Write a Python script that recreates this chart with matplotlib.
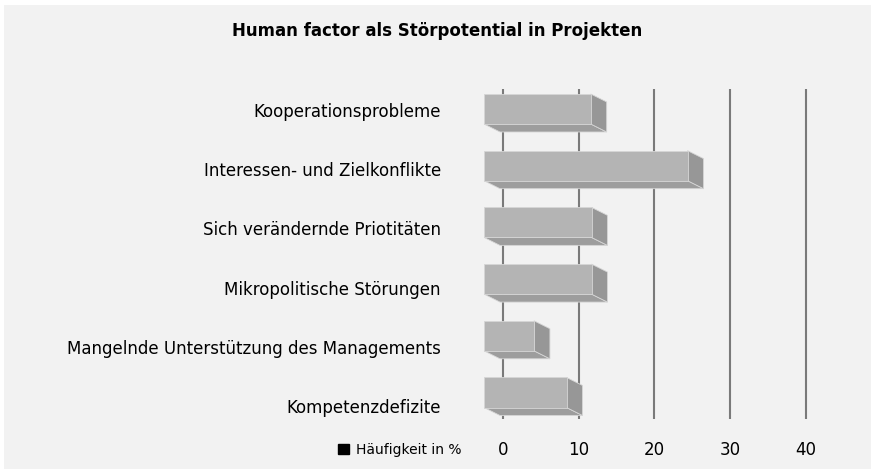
import matplotlib
matplotlib.use('Agg')
import matplotlib.pyplot as plt
from matplotlib.patches import Polygon, Rectangle, Patch

# Daten (Häufigkeit in %), von oben nach unten
categories = [
    'Kooperationsprobleme',
    'Interessen- und Zielkonflikte',
    'Sich verändernde Priotitäten',
    'Mikropolitische Störungen',
    'Mangelnde Unterstützung des Managements',
    'Kompetenzdefizite',
]
values = [13.7, 26.5, 13.8, 13.8, 6.2, 10.5]
xticks = [0, 10, 20, 30, 40]

title = 'Human factor als Störpotential in Projekten'
legend_label = 'Häufigkeit in %'

# look of the pseudo-3d bars
front_col = '#b4b4b4'
bottom_col = '#9d9d9d'
side_col = '#979797'
edge_col = '#d6d6d6'
depth_x = 2.1      # depth offset in value units
depth_y = 0.14     # depth offset in category units
bar_h = 0.53
bar_start = -0.4
label_step = 1.044  # labels are spread a bit wider than the bars (perspective)

W, H = 871, 469
fig = plt.figure(figsize=(W / 100, H / 100), dpi=100)
fig.patch.set_facecolor('white')
fig.add_artist(Rectangle((4 / W, 0), 1, (H - 5) / H, transform=fig.transFigure,
                         facecolor='#f2f2f2', edgecolor='none', zorder=-10))

ax = fig.add_axes([470 / W, 1 - 419 / H, 360 / W, 330 / H])
ax.set_facecolor('none')
ax.set_xlim(-4.36, 43.21)
ax.set_ylim(5.397, -0.423)

ax.vlines(xticks, 5.397, -0.423, color='#7a7a7a', lw=1.5, zorder=1)

for i, v in enumerate(values):
    # back face coords
    bx0, bx1 = bar_start, v
    by_top, by_bot = i + depth_y / 2 - bar_h / 2, i + depth_y / 2 + bar_h / 2
    # front face coords (towards viewer: left and up)
    fx0, fx1 = bx0 - depth_x, bx1 - depth_x
    fy_top, fy_bot = by_top - depth_y, by_bot - depth_y

    bottom = Polygon([(fx0, fy_bot), (fx1, fy_bot), (bx1, by_bot), (bx0, by_bot)],
                     facecolor=bottom_col, edgecolor=edge_col, lw=0.6, zorder=2)
    side = Polygon([(fx1, fy_top), (bx1, by_top), (bx1, by_bot), (fx1, fy_bot)],
                   facecolor=side_col, edgecolor=edge_col, lw=0.6, zorder=2)
    front = Polygon([(fx0, fy_top), (fx1, fy_top), (fx1, fy_bot), (fx0, fy_bot)],
                    facecolor=front_col, edgecolor=edge_col, lw=0.6, zorder=3)
    for p in (bottom, side, front):
        ax.add_patch(p)

ax.set_yticks([-0.053 + label_step * i for i in range(len(categories))])
ax.set_yticklabels(categories, fontsize=12)
ax.set_xticks(xticks)
ax.set_xticklabels([str(t) for t in xticks], fontsize=12)
ax.tick_params(axis='y', length=0, pad=21)
ax.tick_params(axis='x', length=0, pad=16)
for s in ax.spines.values():
    s.set_visible(False)

fig.text(437 / W, 1 - 31 / H, title, ha='center', va='center',
         fontsize=12, fontweight='bold')

fig.legend(handles=[Patch(facecolor='black', edgecolor='black', label=legend_label)],
           loc='center', bbox_to_anchor=(400 / W, 1 - 450 / H), frameon=False,
           fontsize=10, handlelength=0.8, handleheight=0.8, handletextpad=0.5)

fig.savefig('out.png', dpi=100, facecolor=fig.get_facecolor())
